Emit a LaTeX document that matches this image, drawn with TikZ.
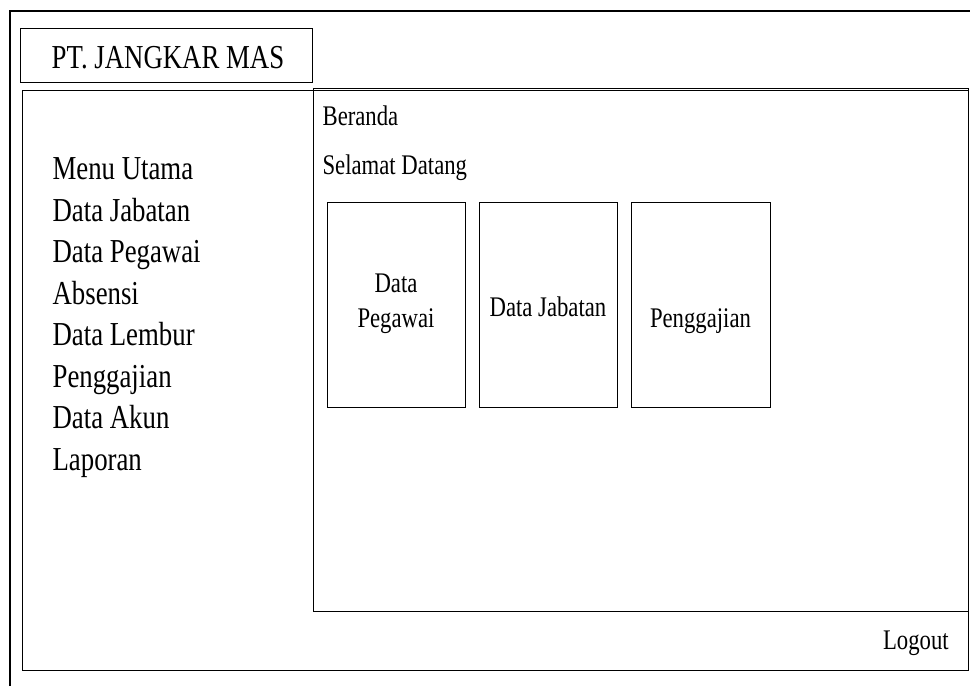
\documentclass[tikz,border=0pt]{standalone}
\usepackage{fontspec}
\setmainfont[FakeStretch=0.8]{Liberation Serif}
\begin{document}
\begin{tikzpicture}[x=1pt, y=-1pt, line width=1.2pt,
    kotak/.style={draw, inner sep=0, anchor=north west},
    besar/.style={inner sep=0, font=\fontsize{33.5}{40}\selectfont},
    kecil/.style={inner sep=0, font=\fontsize{28.4}{35}\selectfont}]
    % 画像の大きさ
    \useasboundingbox (0,0) rectangle (970,686);

    % 外枠
    \draw (10,686) -- (10,11) -- (970,11);

    % タイトル
    \node[kotak, minimum width=292pt, minimum height=54pt] (judul) at (20,28) {};
    \node[besar, anchor=base] (namapt) at (168,68.3) {PT. JANGKAR MAS};

    % 本体とメニュー
    \node[kotak, minimum width=946pt, minimum height=580pt] (badan) at (22,90) {};
    \foreach \teks [count=\i from 0] in {Menu Utama, Data Jabatan, Data Pegawai, Absensi,
        Data Lembur, Penggajian, Data Akun, Laporan}
        \node[besar, anchor=base west] (menu\i) at (52,{179.5+41.5*\i}) {\teks};

    % 内容
    \node[kotak, minimum width=655pt, minimum height=523pt] (isi) at (313,88) {};
    \node[kecil, anchor=base west] (beranda) at (322,125) {Beranda};
    \node[kecil, anchor=base west] (salam) at (322,174) {Selamat Datang};

    % ボタン
    \node[kotak, minimum width=138pt, minimum height=205pt] (tpegawai) at (327,202) {};
    \node[kotak, minimum width=138pt, minimum height=205pt] (tjabatan) at (479,202) {};
    \node[kotak, minimum width=139pt, minimum height=205pt] (tgaji) at (631,202) {};
    \node[kecil, align=center, anchor=north] (lpegawai) at (396,272.9) {Data\\Pegawai};
    \node[kecil, anchor=base] (ljabatan) at (548,316.7) {Data Jabatan};
    \node[kecil, anchor=base] (lgaji) at (700.5,327) {Penggajian};

    \node[kecil, anchor=base east] (logout) at (949.3,649.3) {Logout};
\end{tikzpicture}
\end{document}
